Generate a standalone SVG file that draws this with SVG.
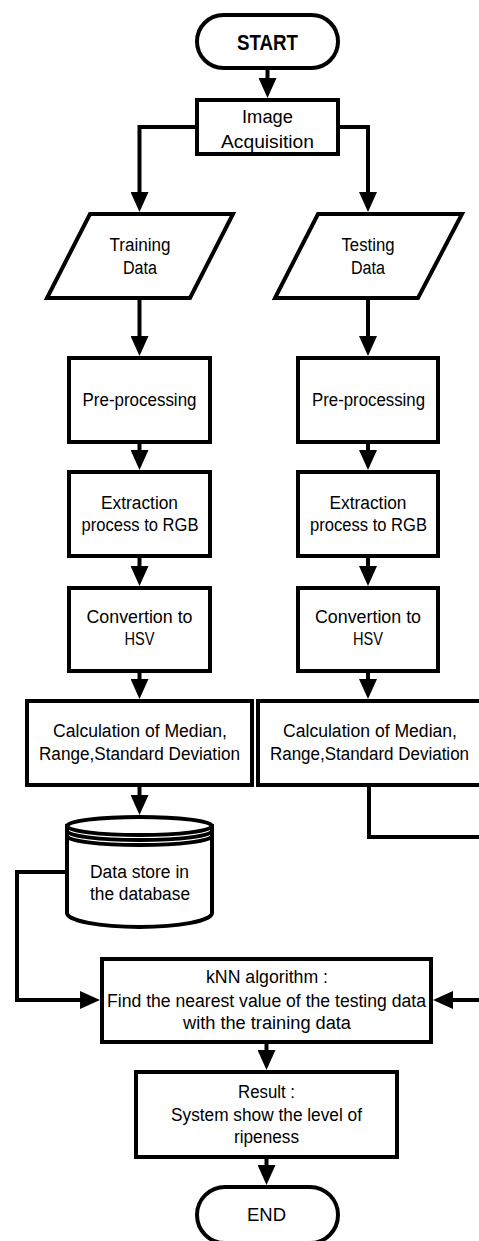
<svg xmlns="http://www.w3.org/2000/svg" width="479" height="1241" viewBox="0 0 479 1241">
<style>
.s{fill:#fff;stroke:#000;stroke-width:4}
.c{fill:none;stroke:#000;stroke-width:4}
.t{font-family:"Liberation Sans",Arial,sans-serif;font-size:18px;fill:#000;text-anchor:middle}
.b{font-weight:bold;font-size:22px}
</style>
<defs>
<marker id="ah" viewBox="0 0 20 18" refX="10" refY="9" markerWidth="20" markerHeight="18" markerUnits="userSpaceOnUse" orient="auto">
<path d="M0,0 L20,9 L0,18 Z" fill="#000"/>
</marker>
</defs>
<g id="connectors">
<path class="c" d="M267.5,70 L267.5,88" marker-end="url(#ah)"/>
<path class="c" d="M197,127 L139.5,127 L139.5,202" marker-end="url(#ah)"/>
<path class="c" d="M338,127 L368,127 L368,202" marker-end="url(#ah)"/>
<path class="c" d="M139.5,298 L139.5,346" marker-end="url(#ah)"/>
<path class="c" d="M368,298 L368,346" marker-end="url(#ah)"/>
<path class="c" d="M139.5,444 L139.5,460" marker-end="url(#ah)"/>
<path class="c" d="M368,444 L368,460" marker-end="url(#ah)"/>
<path class="c" d="M139.5,558 L139.5,576" marker-end="url(#ah)"/>
<path class="c" d="M368,558 L368,576" marker-end="url(#ah)"/>
<path class="c" d="M139.5,673 L139.5,689" marker-end="url(#ah)"/>
<path class="c" d="M368,673 L368,689" marker-end="url(#ah)"/>
<path class="c" d="M139.5,787 L139.5,805" marker-end="url(#ah)"/>
<path class="c" d="M369,787 L369,837 L492,837 L492,1000 L443,1000" marker-end="url(#ah)"/>
<path class="c" d="M67,872 L17,872 L17,1000 L90,1000" marker-end="url(#ah)"/>
<path class="c" d="M266.5,1044 L266.5,1060" marker-end="url(#ah)"/>
<path class="c" d="M266.5,1159 L266.5,1175" marker-end="url(#ah)"/>
</g>
<g id="start">
<rect class="s" x="197" y="15" width="141" height="53" rx="26.5"/>
<text class="t b" x="267.5" y="50" textLength="61" lengthAdjust="spacingAndGlyphs">START</text>
</g>
<g id="image-acquisition">
<rect class="s" x="197" y="100" width="141" height="54"/>
<text class="t" x="267.5" y="123" textLength="51" lengthAdjust="spacingAndGlyphs">Image</text>
<text class="t" x="267.5" y="148" textLength="93" lengthAdjust="spacingAndGlyphs">Acquisition</text>
</g>
<g id="training-data">
<polygon class="s" points="90,214 233,214 190,298 47,298"/>
<text class="t" x="140" y="251" textLength="61" lengthAdjust="spacingAndGlyphs">Training</text>
<text class="t" x="140" y="274" textLength="34" lengthAdjust="spacingAndGlyphs">Data</text>
</g>
<g id="testing-data">
<polygon class="s" points="318,214 462,214 418,298 275,298"/>
<text class="t" x="368" y="251" textLength="53" lengthAdjust="spacingAndGlyphs">Testing</text>
<text class="t" x="368" y="274" textLength="34" lengthAdjust="spacingAndGlyphs">Data</text>
</g>
<g id="preprocessing-left">
<rect class="s" x="69" y="358" width="141" height="84"/>
<text class="t" x="139.5" y="406" textLength="114" lengthAdjust="spacingAndGlyphs">Pre-processing</text>
</g>
<g id="preprocessing-right">
<rect class="s" x="298" y="358" width="140" height="84"/>
<text class="t" x="368.5" y="406" textLength="113" lengthAdjust="spacingAndGlyphs">Pre-processing</text>
</g>
<g id="extraction-left">
<rect class="s" x="69" y="472" width="141" height="84"/>
<text class="t" x="139.5" y="509" textLength="77" lengthAdjust="spacingAndGlyphs">Extraction</text>
<text class="t" x="140" y="531" textLength="117" lengthAdjust="spacingAndGlyphs">process to RGB</text>
</g>
<g id="extraction-right">
<rect class="s" x="298" y="472" width="140" height="84"/>
<text class="t" x="368" y="509" textLength="77" lengthAdjust="spacingAndGlyphs">Extraction</text>
<text class="t" x="368.5" y="531" textLength="117" lengthAdjust="spacingAndGlyphs">process to RGB</text>
</g>
<g id="convertion-left">
<rect class="s" x="69" y="588" width="141" height="83"/>
<text class="t" x="139.5" y="623" textLength="106" lengthAdjust="spacingAndGlyphs">Convertion to</text>
<text class="t" x="139.5" y="645" textLength="30" lengthAdjust="spacingAndGlyphs">HSV</text>
</g>
<g id="convertion-right">
<rect class="s" x="298" y="588" width="140" height="83"/>
<text class="t" x="368" y="623" textLength="106" lengthAdjust="spacingAndGlyphs">Convertion to</text>
<text class="t" x="368" y="645" textLength="30" lengthAdjust="spacingAndGlyphs">HSV</text>
</g>
<g id="calculation-left">
<rect class="s" x="27" y="701" width="225" height="84"/>
<text class="t" x="140" y="737" textLength="174" lengthAdjust="spacingAndGlyphs">Calculation of Median,</text>
<text class="t" x="139.5" y="760" textLength="201" lengthAdjust="spacingAndGlyphs">Range,Standard Deviation</text>
</g>
<g id="calculation-right">
<rect class="s" x="258" y="701" width="226" height="84"/>
<text class="t" x="370" y="737" textLength="174" lengthAdjust="spacingAndGlyphs">Calculation of Median,</text>
<text class="t" x="369.5" y="760" textLength="199" lengthAdjust="spacingAndGlyphs">Range,Standard Deviation</text>
</g>
<g id="database">
<path class="s" d="M67,826 L67,913 A72.5,14 0 0 0 212,913 L212,826 Z" stroke-width="3.5"/>
<ellipse class="s" cx="139.5" cy="826" rx="72.5" ry="9" stroke-width="3.5"/>
<path class="c" d="M67,831 A72.5,9 0 0 0 212,831" stroke-width="3"/>
<path class="c" d="M67,836 A72.5,9 0 0 0 212,836" stroke-width="3"/>
<text class="t" x="139.5" y="878" textLength="99" lengthAdjust="spacingAndGlyphs">Data store in</text>
<text class="t" x="140" y="900" textLength="100" lengthAdjust="spacingAndGlyphs">the database</text>
</g>
<g id="knn">
<rect class="s" x="102" y="959" width="329" height="83"/>
<text class="t" x="267" y="983" textLength="122" lengthAdjust="spacingAndGlyphs">kNN algorithm :</text>
<text class="t" x="266.5" y="1007" textLength="319" lengthAdjust="spacingAndGlyphs">Find the nearest value of the testing data</text>
<text class="t" x="267" y="1029" textLength="168" lengthAdjust="spacingAndGlyphs">with the training data</text>
</g>
<g id="result">
<rect class="s" x="136" y="1072" width="261" height="85"/>
<text class="t" x="266.5" y="1098" textLength="57" lengthAdjust="spacingAndGlyphs">Result :</text>
<text class="t" x="266.5" y="1121" textLength="191" lengthAdjust="spacingAndGlyphs">System show the level of</text>
<text class="t" x="266.5" y="1143" textLength="65" lengthAdjust="spacingAndGlyphs">ripeness</text>
</g>
<g id="end">
<rect class="s" x="197" y="1187" width="141" height="56" rx="28"/>
<text class="t" x="266.5" y="1221" textLength="39" lengthAdjust="spacingAndGlyphs">END</text>
</g>
</svg>
